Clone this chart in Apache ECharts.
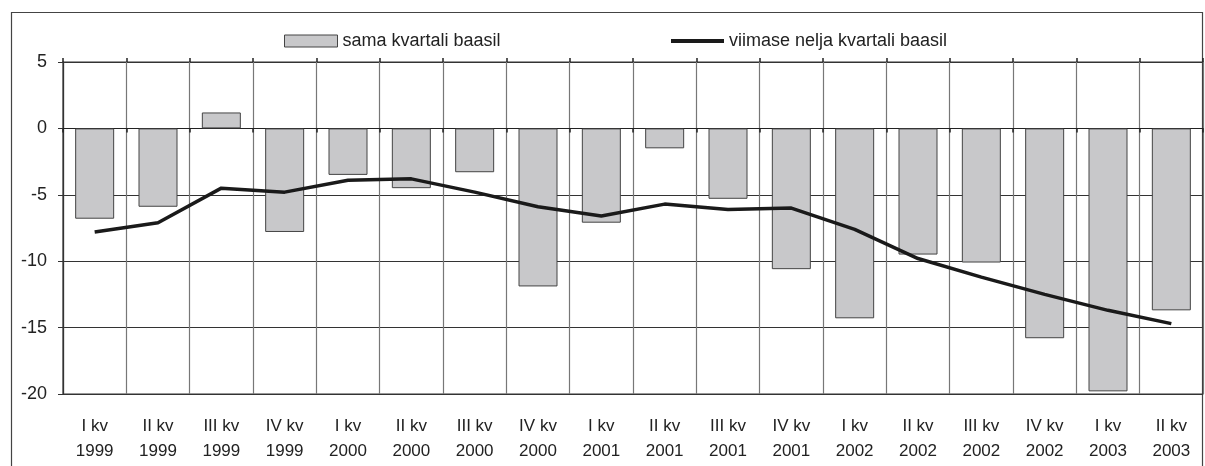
<!DOCTYPE html>
<html><head><meta charset="utf-8">
<script src="https://cdn.jsdelivr.net/npm/echarts@6/dist/echarts.min.js"></script>
<style>html,body{margin:0;padding:0;background:#fff}#c{width:1205px;height:466px}</style>
</head><body><div id="c"></div>
<script>
var categories = ['I kv\n1999','II kv\n1999','III kv\n1999','IV kv\n1999','I kv\n2000','II kv\n2000','III kv\n2000','IV kv\n2000','I kv\n2001','II kv\n2001','III kv\n2001','IV kv\n2001','I kv\n2002','II kv\n2002','III kv\n2002','IV kv\n2002','I kv\n2003','II kv\n2003'];
var samaKvartali = [-6.8,-5.9,1.2,-7.8,-3.5,-4.5,-3.3,-11.9,-7.1,-1.5,-5.3,-10.6,-14.3,-9.5,-10.1,-15.8,-19.8,-13.7];
var viimaseNelja = [-7.8,-7.1,-4.5,-4.8,-3.9,-3.8,-4.8,-5.9,-6.6,-5.7,-6.1,-6.0,-7.6,-9.8,-11.2,-12.5,-13.7,-14.7];
var yTicks = [5,0,-5,-10,-15,-20];
var barName = 'sama kvartali baasil';
var lineName = 'viimase nelja kvartali baasil';

var chart = echarts.init(document.getElementById('c'), null, {renderer:'canvas'});
var font = 'Liberation Sans, Arial, sans-serif';
chart.setOption({
  animation:false,
  backgroundColor:'#fff',
  textStyle:{fontFamily:font},
  graphic:[{type:'rect',shape:{x:11.5,y:12.5,width:1191,height:470},style:{fill:'none',stroke:'#444',lineWidth:1.2},silent:true,z:-1}],
  legend:[
    {left:279,top:27,itemWidth:53,itemHeight:12,icon:'rect',data:[barName],textStyle:{fontSize:18,color:'#222',fontFamily:font},itemStyle:{borderColor:'#444',borderWidth:1}},
    {left:666,top:27,itemWidth:53,itemHeight:4,icon:'rect',data:[lineName],textStyle:{fontSize:18,color:'#222',fontFamily:font}}
  ],
  grid:{left:63,top:62,right:2,bottom:72,show:true,borderColor:'#333',borderWidth:1.2},
  xAxis:[
    {type:'category',data:categories,position:'bottom',axisLine:{show:false,onZero:false},axisTick:{show:false},
     splitLine:{show:true,interval:0,lineStyle:{color:'#777',width:1.2}},
     axisLabel:{interval:0,margin:20,fontSize:17,lineHeight:25,color:'#222',fontFamily:font}},
    {type:'category',data:categories,axisLine:{show:true,onZero:true,lineStyle:{color:'#222',width:1.2}},axisTick:{show:true,inside:true,length:4,lineStyle:{color:'#222',width:1.5}},axisLabel:{show:false}},
    {type:'category',data:categories,axisLine:{show:false,onZero:true},axisTick:{show:true,inside:false,length:4,lineStyle:{color:'#222',width:1.5}},axisLabel:{show:false}}
  ],
  yAxis:{type:'value',min:-20,max:5,interval:5,
    axisLine:{show:true,lineStyle:{color:'#333',width:1.2}},
    axisTick:{show:true,length:5,lineStyle:{color:'#333'}},
    splitLine:{show:true,lineStyle:{color:'#333',width:1}},
    axisLabel:{margin:16,fontSize:18,color:'#222',fontFamily:font,formatter:function(v){return yTicks.indexOf(v)>=0?String(v):'';}}},
  series:[
    {name:barName,type:'bar',data:samaKvartali,barWidth:39,itemStyle:{color:'#c8c8ca',borderColor:'#444',borderWidth:1}},
    {name:lineName,type:'line',data:viimaseNelja,symbol:'none',lineStyle:{color:'#1a1a1a',width:3.5},itemStyle:{color:'#1a1a1a'},z:5}
  ]
});
</script></body></html>
